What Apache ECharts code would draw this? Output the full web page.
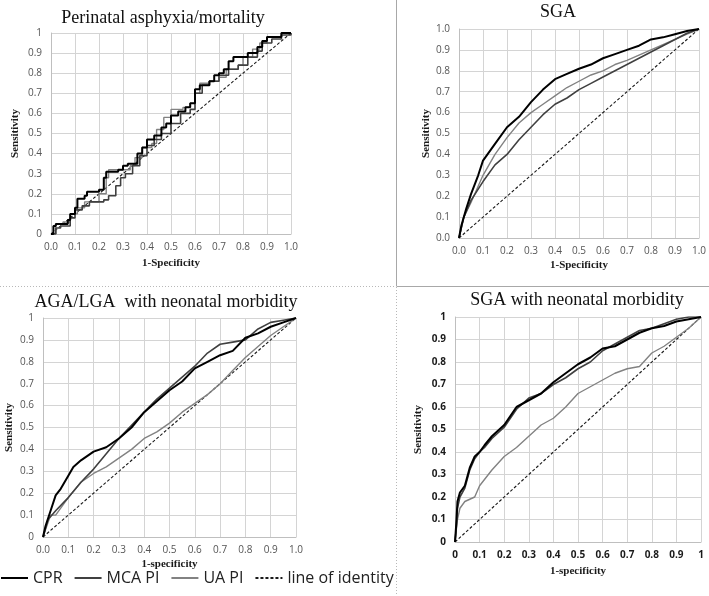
<!DOCTYPE html>
<html><head><meta charset="utf-8">
<script src="https://cdn.jsdelivr.net/npm/echarts@6/dist/echarts.min.js"></script>
<style>html,body{margin:0;padding:0;background:#fff}#c{width:709px;height:596px}</style>
</head><body><div id="c"></div>
<script>
// ---- Titles / labels ----
const panelTitles = ['Perinatal asphyxia/mortality', 'SGA', 'AGA/LGA  with neonatal morbidity', 'SGA with neonatal morbidity'];
const xAxisNames = ['1-Specificity', '1-Specificity', '1-specificity', '1-specificity'];
const yAxisName = 'Sensitivity';
const seriesNames = ['CPR', 'MCA PI', 'UA PI', 'line of identity'];
const xTicksA = ['0.0','0.1','0.2','0.3','0.4','0.5','0.6','0.7','0.8','0.9','1.0'];
const xTicksB = ['0','0.1','0.2','0.3','0.4','0.5','0.6','0.7','0.8','0.9','1'];
const yTicksA = ['0','0.1','0.2','0.3','0.4','0.5','0.6','0.7','0.8','0.9','1'];
const yTicksB = ['0.0','0.1','0.2','0.3','0.4','0.5','0.6','0.7','0.8','0.9','1.0'];

// ---- Panel 1: Perinatal asphyxia/mortality (step ROC) ----
const asphyxiaCPR = [[0,0],[0.01,0.04],[0.02,0.05],[0.07,0.07],[0.08,0.1],[0.1,0.13],[0.11,0.175],[0.14,0.19],[0.15,0.21],[0.2,0.22],[0.22,0.28],[0.23,0.31],[0.28,0.32],[0.3,0.34],[0.32,0.35],[0.34,0.35],[0.36,0.4],[0.38,0.43],[0.4,0.47],[0.43,0.49],[0.46,0.53],[0.48,0.55],[0.5,0.59],[0.53,0.61],[0.56,0.63],[0.58,0.65],[0.6,0.72],[0.62,0.74],[0.66,0.76],[0.68,0.79],[0.7,0.8],[0.72,0.82],[0.74,0.86],[0.76,0.88],[0.81,0.88],[0.82,0.9],[0.86,0.93],[0.88,0.96],[0.9,0.98],[0.96,1],[1,1]];
const asphyxiaMCA = [[0,0],[0.02,0.03],[0.04,0.04],[0.08,0.08],[0.1,0.12],[0.13,0.14],[0.16,0.16],[0.22,0.17],[0.24,0.19],[0.27,0.24],[0.29,0.28],[0.31,0.3],[0.34,0.34],[0.37,0.39],[0.4,0.44],[0.43,0.47],[0.46,0.5],[0.5,0.55],[0.54,0.6],[0.58,0.62],[0.6,0.7],[0.63,0.74],[0.66,0.76],[0.7,0.79],[0.74,0.82],[0.78,0.84],[0.82,0.88],[0.86,0.91],[0.88,0.95],[0.92,0.97],[0.96,0.99],[1,1]];
const asphyxiaUA = [[0,0],[0.02,0.05],[0.05,0.06],[0.08,0.1],[0.11,0.13],[0.14,0.16],[0.2,0.2],[0.23,0.28],[0.24,0.32],[0.3,0.32],[0.33,0.34],[0.35,0.38],[0.38,0.43],[0.42,0.45],[0.44,0.52],[0.47,0.58],[0.5,0.62],[0.55,0.63],[0.58,0.65],[0.6,0.7],[0.62,0.75],[0.66,0.76],[0.7,0.78],[0.73,0.82],[0.78,0.84],[0.8,0.88],[0.84,0.92],[0.87,0.95],[0.9,0.98],[0.96,1],[1,1]];

// ---- Panel 2: SGA ----
const sgaCPR = [[0,0],[0.01,0.06],[0.03,0.14],[0.05,0.21],[0.08,0.3],[0.1,0.37],[0.15,0.45],[0.2,0.53],[0.25,0.58],[0.3,0.65],[0.35,0.71],[0.4,0.76],[0.45,0.785],[0.5,0.81],[0.55,0.83],[0.6,0.86],[0.65,0.88],[0.7,0.9],[0.75,0.92],[0.8,0.95],[0.85,0.96],[0.9,0.975],[0.95,0.99],[1,1]];
const sgaMCA = [[0,0],[0.02,0.1],[0.05,0.18],[0.1,0.27],[0.15,0.35],[0.2,0.4],[0.25,0.47],[0.3,0.53],[0.35,0.59],[0.4,0.64],[0.45,0.67],[0.5,0.71],[0.55,0.74],[0.6,0.77],[0.65,0.8],[0.7,0.83],[0.75,0.86],[0.8,0.89],[0.85,0.92],[0.9,0.95],[0.95,0.98],[1,1]];
const sgaUA = [[0,0],[0.02,0.1],[0.05,0.17],[0.1,0.3],[0.15,0.4],[0.2,0.48],[0.25,0.55],[0.3,0.6],[0.35,0.64],[0.4,0.68],[0.45,0.72],[0.5,0.75],[0.55,0.78],[0.6,0.8],[0.65,0.83],[0.7,0.85],[0.75,0.875],[0.8,0.9],[0.85,0.925],[0.9,0.95],[0.95,0.975],[1,1]];

// ---- Panel 3: AGA/LGA with neonatal morbidity ----
const agaCPR = [[0,0],[0.01,0.05],[0.03,0.12],[0.05,0.19],[0.07,0.22],[0.1,0.28],[0.12,0.32],[0.15,0.35],[0.2,0.39],[0.25,0.41],[0.3,0.45],[0.35,0.5],[0.4,0.57],[0.45,0.62],[0.5,0.67],[0.55,0.71],[0.6,0.77],[0.65,0.8],[0.7,0.83],[0.75,0.85],[0.8,0.91],[0.85,0.93],[0.9,0.96],[0.95,0.98],[1,1]];
const agaMCA = [[0,0],[0.02,0.08],[0.05,0.12],[0.1,0.18],[0.15,0.25],[0.2,0.31],[0.25,0.38],[0.3,0.45],[0.35,0.51],[0.4,0.57],[0.45,0.63],[0.5,0.68],[0.55,0.73],[0.6,0.78],[0.65,0.84],[0.7,0.88],[0.75,0.89],[0.8,0.9],[0.85,0.95],[0.9,0.98],[0.95,0.99],[1,1]];
const agaUA = [[0,0],[0.03,0.1],[0.05,0.1],[0.1,0.18],[0.15,0.25],[0.2,0.29],[0.25,0.32],[0.3,0.36],[0.35,0.4],[0.4,0.45],[0.45,0.48],[0.5,0.52],[0.55,0.57],[0.6,0.61],[0.65,0.65],[0.7,0.7],[0.75,0.76],[0.8,0.82],[0.85,0.87],[0.9,0.92],[0.95,0.96],[1,1]];

// ---- Panel 4: SGA with neonatal morbidity ----
const sgaMorbCPR = [[0,0],[0.005,0.08],[0.01,0.18],[0.02,0.22],[0.04,0.25],[0.06,0.33],[0.08,0.38],[0.1,0.4],[0.12,0.43],[0.15,0.47],[0.2,0.52],[0.25,0.6],[0.3,0.63],[0.35,0.66],[0.4,0.71],[0.45,0.75],[0.5,0.79],[0.55,0.82],[0.6,0.86],[0.65,0.87],[0.7,0.9],[0.75,0.93],[0.8,0.95],[0.85,0.96],[0.9,0.98],[0.95,0.99],[1,1]];
const sgaMorbMCA = [[0,0],[0.005,0.06],[0.01,0.15],[0.02,0.2],[0.04,0.24],[0.06,0.32],[0.08,0.37],[0.1,0.4],[0.12,0.42],[0.15,0.46],[0.2,0.51],[0.25,0.59],[0.3,0.64],[0.35,0.66],[0.4,0.7],[0.45,0.73],[0.5,0.77],[0.55,0.8],[0.6,0.85],[0.65,0.88],[0.7,0.91],[0.75,0.94],[0.8,0.95],[0.85,0.97],[0.9,0.99],[0.95,1],[1,1]];
const sgaMorbUA = [[0,0],[0.01,0.1],[0.02,0.15],[0.04,0.18],[0.06,0.19],[0.08,0.2],[0.1,0.25],[0.15,0.32],[0.2,0.38],[0.25,0.42],[0.3,0.47],[0.35,0.52],[0.4,0.55],[0.45,0.6],[0.5,0.66],[0.55,0.69],[0.6,0.72],[0.65,0.75],[0.7,0.77],[0.75,0.78],[0.8,0.84],[0.85,0.87],[0.9,0.91],[0.95,0.95],[1,1]];

const identity = [[0,0],[1,1]];

const panelData = [
  [asphyxiaCPR, asphyxiaMCA, asphyxiaUA],
  [sgaCPR, sgaMCA, sgaUA],
  [agaCPR, agaMCA, agaUA],
  [sgaMorbCPR, sgaMorbMCA, sgaMorbUA]
];

// ---- Layout ----
const grids = [
  {left: 51, top: 33, width: 240, height: 201},
  {left: 459, top: 29, width: 241, height: 209},
  {left: 43, top: 318, width: 253, height: 219},
  {left: 455, top: 317, width: 246, height: 225}
];
const xTickSets = [xTicksA, xTicksA, xTicksA, xTicksB];
const yTickSets = [yTicksA, yTicksB, yTicksA, yTicksA];
const titlePos = [[163, 18], [558, 12], [166, 302], [577, 300]];
const xNameGap = [24, 22, 22, 24];
const yNameGap = [30, 27, 28, 31];

const lineColors = ['#000000', '#404040', '#828282', '#1a1a1a'];
const lineWidths = [2, 1.6, 1.4, 1.1];

const chart = echarts.init(document.getElementById('c'), null, {renderer: 'canvas'});

const xAxes = [], yAxes = [], series = [];
grids.forEach((g, i) => {
  const labelColor = i === 3 ? '#1a1a1a' : '#555555';
  xAxes.push({
    type: 'value', gridIndex: i, min: 0, max: 1, interval: 0.1,
    name: xAxisNames[i], nameLocation: 'middle', nameGap: xNameGap[i],
    nameTextStyle: {fontFamily: 'Liberation Serif', fontWeight: 'bold', fontSize: 11, color: '#1a1a1a'},
    axisLine: {show: true, lineStyle: {color: '#bfbfbf', width: 1}},
    axisTick: {show: false},
    axisLabel: {fontFamily: 'Open Sans', fontSize: 10, color: labelColor, margin: 8,
      fontWeight: i === 3 ? 'bold' : 'normal',
      formatter: (v) => xTickSets[i][Math.round(v * 10)]},
    splitLine: {show: true, lineStyle: {color: '#d4d4d4', width: 1}}
  });
  yAxes.push({
    type: 'value', gridIndex: i, min: 0, max: 1, interval: 0.1,
    name: yAxisName, nameLocation: 'middle', nameGap: yNameGap[i],
    nameTextStyle: {fontFamily: 'Liberation Serif', fontWeight: 'bold', fontSize: 11, color: '#1a1a1a'},
    axisLine: {show: true, lineStyle: {color: '#bfbfbf', width: 1}},
    axisTick: {show: false},
    axisLabel: {fontFamily: 'Open Sans', fontSize: 10, color: labelColor, margin: 9,
      fontWeight: i === 3 ? 'bold' : 'normal',
      formatter: (v) => yTickSets[i][Math.round(v * 10)]},
    splitLine: {show: true, lineStyle: {color: '#d4d4d4', width: 1}}
  });
  series.push({
    name: seriesNames[3], type: 'line', xAxisIndex: i, yAxisIndex: i, data: identity,
    symbol: 'none', silent: true, z: 1,
    lineStyle: {color: lineColors[3], width: lineWidths[3], type: [3, 2]},
    itemStyle: {color: lineColors[3]}
  });
  [2, 1, 0].forEach((k) => {
    series.push({
      name: seriesNames[k], type: 'line', xAxisIndex: i, yAxisIndex: i, data: panelData[i][k],
      symbol: 'none', silent: true, z: 2 + (2 - k),
      step: i === 0 ? 'end' : false,
      lineStyle: {color: lineColors[k], width: lineWidths[k]},
      itemStyle: {color: lineColors[k]}
    });
  });
});

const graphics = [
  {type: 'line', shape: {x1: 396.5, y1: 0, x2: 396.5, y2: 286}, style: {stroke: '#a8a8a8', lineWidth: 1}},
  {type: 'line', shape: {x1: 396.5, y1: 286.5, x2: 709, y2: 286.5}, style: {stroke: '#a8a8a8', lineWidth: 1}},
  {type: 'line', shape: {x1: 0, y1: 286.5, x2: 396, y2: 286.5}, style: {stroke: '#b8b8b8', lineWidth: 1, lineDash: [1, 2]}},
  {type: 'line', shape: {x1: 396.5, y1: 287, x2: 396.5, y2: 596}, style: {stroke: '#b8b8b8', lineWidth: 1, lineDash: [1, 2]}}
];
panelTitles.forEach((t, i) => {
  graphics.push({
    type: 'text', x: titlePos[i][0], y: titlePos[i][1],
    style: {text: t, font: '18px "Liberation Serif"', fill: '#111', textAlign: 'center', textVerticalAlign: 'middle'}
  });
});

chart.setOption({
  animation: false,
  backgroundColor: '#ffffff',
  grid: grids.map(g => Object.assign({containLabel: false}, g)),
  xAxis: xAxes,
  yAxis: yAxes,
  legend: {
    data: seriesNames, left: 0, top: 570, padding: 0,
    itemWidth: 27, itemHeight: 2, itemGap: 11,
    itemStyle: {opacity: 0, borderWidth: 0},
    textStyle: {fontFamily: 'Open Sans', fontSize: 16, color: '#222'},
    selectedMode: false
  },
  graphic: graphics,
  series: series
});
</script></body></html>
